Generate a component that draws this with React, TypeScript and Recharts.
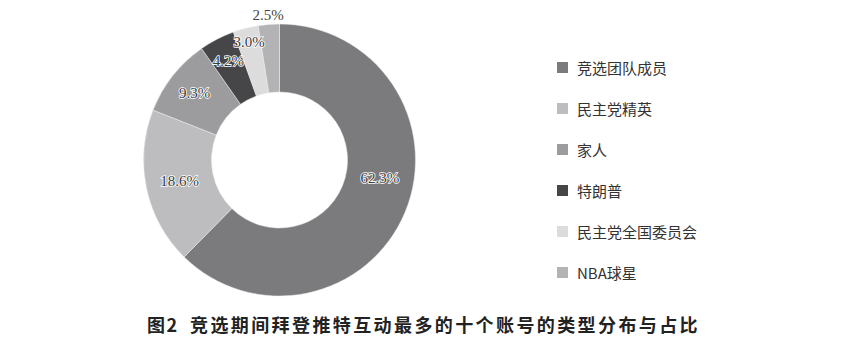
import React from 'react';
import { PieChart, Pie, Cell, Legend } from 'recharts';

const categories = ['竞选团队成员', '民主党精英', '家人', '特朗普', '民主党全国委员会', 'NBA球星'];
const shares = [62.3, 18.6, 9.3, 4.2, 3.0, 2.5];
const colors = ['#7b7b7e', '#bdbdbf', '#9c9c9e', '#464648', '#dcdcdd', '#b3b3b5'];
const figNo = '图2';
const title = '竞选期间拜登推特互动最多的十个账号的类型分布与占比';

const data = categories.map((name, i) => ({ name, value: shares[i] }));

// label distance from centre for each slice (the small ones sit further out)
const labelRadius = [102, 102, 108, 111, 122, 145];
const RAD = Math.PI / 180;

const renderLabel = (props: any) => {
  const { cx, cy, midAngle, index, value } = props;
  const ang = index === 0 ? midAngle + 12 : midAngle;
  const r = labelRadius[index];
  const x = cx + r * Math.cos(-ang * RAD);
  const y = cy + r * Math.sin(-ang * RAD);
  const outside = index === 5;
  return (
    <text
      x={x}
      y={y}
      textAnchor="middle"
      dominantBaseline="central"
      style={{
        fontFamily: "'Liberation Serif', 'DejaVu Serif', serif",
        fontSize: 15,
        paintOrder: 'stroke',
      }}
      fill={outside ? '#444' : '#3a3a3a'}
      stroke={outside ? 'none' : '#fff'}
      strokeWidth={1.6}
    >
      {value.toFixed(1)}%
    </text>
  );
};

const renderLegend = () => (
  <div>
    {categories.map((c, i) => (
      <div key={c} style={{ display: 'flex', alignItems: 'center', height: 41 }}>
        <span style={{ width: 11, height: 11, background: colors[i], display: 'inline-block', marginRight: 9 }} />
        <span style={{ fontSize: 15, color: '#333', fontFamily: "'Noto Sans CJK SC', sans-serif" }}>{c}</span>
      </div>
    ))}
  </div>
);

const titleFont = {
  position: 'absolute' as const,
  top: 315,
  fontFamily: "'Noto Sans CJK SC', sans-serif",
  fontWeight: 700,
  fontSize: 18,
  lineHeight: '18px',
  color: '#222',
  whiteSpace: 'pre' as const,
};

export default function App() {
  return (
    <div style={{ position: 'absolute', left: 0, top: 0, width: 842, height: 359, background: '#fff' }}>
      <PieChart width={842} height={359} margin={{ top: 0, right: 0, bottom: 0, left: 0 }}>
        <Pie
          data={data}
          dataKey="value"
          nameKey="name"
          cx={279.5}
          cy={160}
          innerRadius={68}
          outerRadius={136}
          startAngle={90}
          endAngle={-270}
          stroke="#eee"
          strokeWidth={0.5}
          label={renderLabel}
          labelLine={false}
          isAnimationActive={false}
        >
          {data.map((d, i) => (
            <Cell key={d.name} fill={colors[i]} />
          ))}
        </Pie>
        <Legend
          content={renderLegend}
          layout="vertical"
          wrapperStyle={{ left: 557, top: 47, width: 220 }}
        />
      </PieChart>
      <div style={{ ...titleFont, left: 147, letterSpacing: 1.5 }}>{figNo}</div>
      <div style={{ ...titleFont, left: 190, letterSpacing: 2.4 }}>{title}</div>
    </div>
  );
}
